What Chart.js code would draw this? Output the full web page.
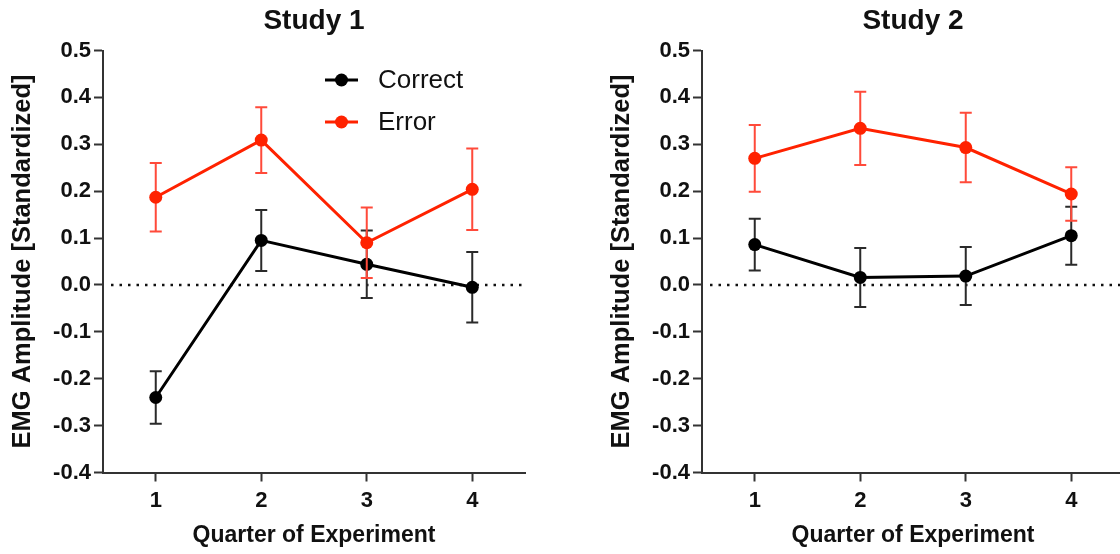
<!DOCTYPE html>
<html><head><meta charset="utf-8">
<script src="https://cdn.jsdelivr.net/npm/chart.js@4.4.0/dist/chart.umd.min.js"></script>
<style>
html,body{margin:0;padding:0;background:#fff;overflow:hidden;width:1120px;height:554px;position:relative;}
.box{position:absolute;top:0;width:560px;height:554px;}
#b1{left:0}
#b2{left:599px}
canvas{display:block}
</style></head><body>
<div class="box" id="b1"><canvas id="c1" width="560" height="554"></canvas></div>
<div class="box" id="b2"><canvas id="c2" width="560" height="554"></canvas></div>
<script>
// ---- data ----
const quarters = [1, 2, 3, 4];
const seriesNames = ['Correct', 'Error'];
const chartTitles = ['Study 1', 'Study 2'];
const study1Correct    = [-0.240, 0.095, 0.044, -0.005];
const study1CorrectErr = [0.056, 0.065, 0.072, 0.075];
const study1Error      = [0.187, 0.309, 0.090, 0.204];
const study1ErrorErr   = [0.073, 0.070, 0.075, 0.087];
const study2Correct    = [0.086, 0.016, 0.019, 0.105];
const study2CorrectErr = [0.055, 0.063, 0.062, 0.062];
const study2Error      = [0.270, 0.334, 0.293, 0.194];
const study2ErrorErr   = [0.071, 0.078, 0.074, 0.057];
const yMin = -0.4, yMax = 0.5, yStep = 0.1;

// ---- styling ----
const FONT = "'Liberation Sans', Arial, Helvetica, sans-serif";
const BLACK = '#000000', RED = '#ff2200';
const BLACK_ERR = '#2a2a2a', RED_ERR = '#ff4a3a';
const AXIS = '#333333', TEXT = '#111111';

const errorBarPlugin = {
  id: 'errorBars',
  beforeDatasetDraw(chart, args) {
    const ds = chart.data.datasets[args.index];
    if (!ds.errorBars) return;
    const ctx = chart.ctx, ys = chart.scales.y;
    ctx.save();
    ctx.strokeStyle = ds.errorColor;
    ctx.lineWidth = 2;
    args.meta.data.forEach((pt, i) => {
      const v = ds.data[i].y, e = ds.errorBars[i];
      const yt = ys.getPixelForValue(v + e), yb = ys.getPixelForValue(v - e);
      const cw = 6;
      ctx.beginPath();
      ctx.moveTo(pt.x, yt); ctx.lineTo(pt.x, yb);
      ctx.moveTo(pt.x - cw, yt); ctx.lineTo(pt.x + cw, yt);
      ctx.moveTo(pt.x - cw, yb); ctx.lineTo(pt.x + cw, yb);
      ctx.stroke();
    });
    ctx.restore();
  }
};

const zeroLinePlugin = {
  id: 'zeroLine',
  beforeDatasetsDraw(chart) {
    const ctx = chart.ctx, a = chart.chartArea;
    const y0 = chart.scales.y.getPixelForValue(0);
    ctx.save();
    ctx.strokeStyle = '#111';
    ctx.lineWidth = 2.5;
    ctx.setLineDash([2.5, 6]);
    ctx.beginPath();
    ctx.moveTo(a.left + 8, y0);
    ctx.lineTo(a.right, y0);
    ctx.stroke();
    ctx.restore();
  }
};

const legendPlugin = {
  id: 'inLegend',
  afterDatasetsDraw(chart, args, opts) {
    if (!opts.show) return;
    const ctx = chart.ctx, a = chart.chartArea;
    const items = chart.data.datasets.slice().reverse();
    ctx.save();
    items.forEach((ds, k) => {
      const y = a.top + 29.5 + k * 42;
      ctx.strokeStyle = ds.borderColor;
      ctx.lineWidth = 3;
      ctx.beginPath();
      ctx.moveTo(a.left + 222, y); ctx.lineTo(a.left + 255, y);
      ctx.stroke();
      ctx.fillStyle = ds.borderColor;
      ctx.beginPath();
      ctx.arc(a.left + 238.5, y, 6.5, 0, Math.PI * 2);
      ctx.fill();
      ctx.fillStyle = TEXT;
      ctx.font = '26px ' + FONT;
      ctx.textBaseline = 'middle';
      ctx.textAlign = 'left';
      ctx.fillText(ds.label, a.left + 275, y + 1);
    });
    ctx.restore();
  }
};

function makeChart(id, title, correct, correctErr, error, errorErr, showLegend) {
  const tickFont = { family: FONT, size: 22, weight: 'bold' };
  const gridOpts = { drawOnChartArea: false, drawTicks: true, tickLength: 9, tickWidth: 2, tickColor: AXIS };
  const borderOpts = { display: true, color: AXIS, width: 2 };
  return new Chart(document.getElementById(id), {
    type: 'line',
    data: {
      datasets: [
        { label: seriesNames[1], data: quarters.map((q, i) => ({ x: q, y: error[i] })),
          errorBars: errorErr, errorColor: RED_ERR,
          borderColor: RED, backgroundColor: RED, borderWidth: 3,
          pointRadius: 6.5, pointBorderWidth: 0, pointBackgroundColor: RED, tension: 0 },
        { label: seriesNames[0], data: quarters.map((q, i) => ({ x: q, y: correct[i] })),
          errorBars: correctErr, errorColor: BLACK_ERR,
          borderColor: BLACK, backgroundColor: BLACK, borderWidth: 3,
          pointRadius: 6.5, pointBorderWidth: 0, pointBackgroundColor: BLACK, tension: 0 }
      ]
    },
    options: {
      responsive: false, animation: false, devicePixelRatio: 1,
      layout: { padding: { left: 0, right: 35, top: 0, bottom: 0 } },
      plugins: {
        legend: { display: false },
        tooltip: { enabled: false },
        title: { display: true, text: title, fullSize: false, color: TEXT,
                 font: { family: FONT, size: 28, weight: 'bold' }, padding: { top: 4, bottom: 12.9 } },
        inLegend: { show: showLegend }
      },
      scales: {
        x: {
          type: 'linear', min: 0.5, max: 4.5,
          afterBuildTicks: s => { s.ticks = quarters.map(v => ({ value: v })); },
          ticks: { color: TEXT, font: tickFont, padding: 6, callback: v => String(v) },
          grid: gridOpts, border: borderOpts,
          title: { display: true, text: 'Quarter of Experiment', color: TEXT,
                   font: { family: FONT, size: 23, weight: 'bold' }, padding: { top: 0, bottom: 5 } },
          afterFit: s => { s.height = 554 - 472.5; }
        },
        y: {
          min: yMin, max: yMax,
          ticks: { stepSize: yStep, color: TEXT, font: tickFont, padding: 3,
                   callback: v => (Math.abs(v) < 1e-9 ? 0 : v).toFixed(1) },
          grid: gridOpts, border: borderOpts,
          title: { display: true, text: 'EMG Amplitude [Standardized]', color: TEXT,
                   font: { family: FONT, size: 25.5, weight: 'bold' }, padding: { top: 8, bottom: 0 } },
          afterFit: s => { s.width = 103; }
        }
      }
    },
    plugins: [zeroLinePlugin, errorBarPlugin, legendPlugin]
  });
}

makeChart('c1', chartTitles[0], study1Correct, study1CorrectErr, study1Error, study1ErrorErr, true);
makeChart('c2', chartTitles[1], study2Correct, study2CorrectErr, study2Error, study2ErrorErr, false);
</script>
</body></html>
